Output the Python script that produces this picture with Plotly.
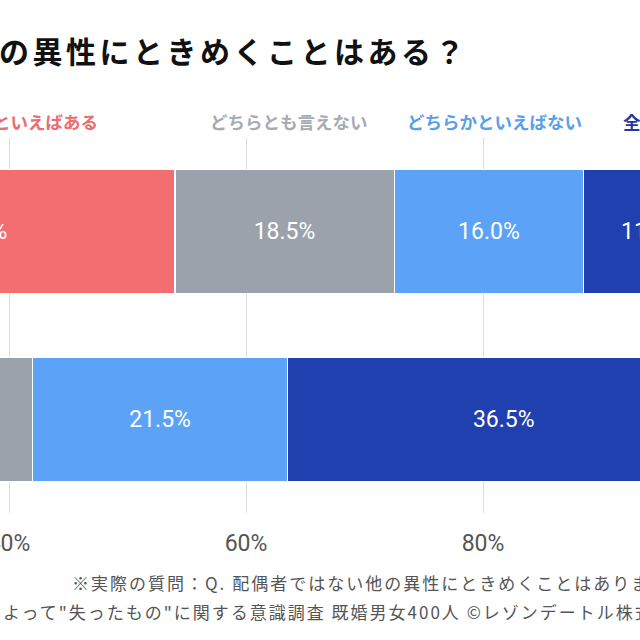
import plotly.graph_objects as go

# ---- data ----
groups = ["男性", "女性"]
answers = ["ある", "どちらかといえばある", "どちらとも言えない", "どちらかといえばない", "全くない"]
values = {
    "ある": [20.5, 7.0],
    "どちらかといえばある": [33.5, 16.5],
    "どちらとも言えない": [18.5, 18.5],
    "どちらかといえばない": [16.0, 21.5],
    "全くない": [11.5, 36.5],
}
colors = ["#d9484d", "#f26e71", "#9ca2ac", "#5ca2f6", "#1f40ae"]
legend_colors = ["#d9484d", "#ec6c6f", "#a7abb3", "#5b9ee9", "#1f3a9c"]
tick_vals = [0, 20, 40, 60, 80, 100]
tick_text = ["0%", "20%", "40%", "60%", "80%", "100%"]
title_text = "配偶者ではない他の異性にときめくことはある？"
note1 = "※実際の質問：Q. 配偶者ではない他の異性にときめくことはありませんか？"
note2 = "よって\"失ったもの\"に関する意識調査 既婚男女400人 ©レゾンデートル株式会社"

W, H = 640, 640
top, bottom = 138, 513
JP = "Noto Sans CJK JP"
NUM = "Roboto"

fig = go.Figure()
for a, c in zip(answers, colors):
    fig.add_trace(go.Bar(
        y=groups, x=values[a], orientation="h", name=a,
        marker=dict(color=c, line=dict(color="white", width=1.2)),
        width=0.66,
        text=[f"{v:.1f}%" for v in values[a]],
        textposition="inside", insidetextanchor="middle", textangle=0,
        constraintext="none",
        textfont=dict(family=NUM, size=23, color="white"),
        cliponaxis=True,
    ))

def px_x(p):
    return p / W

def px_y(p):
    return (bottom - p) / (bottom - top)

ann = []
ann.append(dict(text=f"<span style='letter-spacing:3.5px'><b>{title_text}</b></span>",
                xref="paper", yref="paper", x=px_x(470), y=px_y(50),
                xanchor="right", yanchor="middle", showarrow=False,
                font=dict(family=JP, size=30, color="#111111")))
leg_pos = [(None, None), (100, "right"), (208, "left"), (405, "left"), (621, "left")]
for a, col, (xp, anc) in zip(answers, legend_colors, leg_pos):
    if xp is None:
        continue
    ann.append(dict(text=f"<b>{a}</b>", xref="paper", yref="paper",
                    x=px_x(xp), y=px_y(121), xanchor=anc, yanchor="middle",
                    showarrow=False, font=dict(family=JP, size=17.5, color=col)))
ann.append(dict(text=f"<span style='letter-spacing:2px'>{note1}</span>",
                xref="paper", yref="paper", x=px_x(70), y=px_y(582),
                xanchor="left", yanchor="middle", showarrow=False,
                font=dict(family=JP, size=17, color="#555555")))
ann.append(dict(text=f"<span style='letter-spacing:2px'>{note2}</span>",
                xref="paper", yref="paper", x=px_x(1), y=px_y(611),
                xanchor="left", yanchor="middle", showarrow=False,
                font=dict(family=JP, size=17, color="#555555")))

x0 = 40 - 9 / 11.85
x1 = 40 + 631 / 11.85
fig.update_layout(
    width=W, height=H, barmode="stack", showlegend=False,
    margin=dict(l=0, r=0, t=top, b=H - bottom, pad=0, autoexpand=False),
    paper_bgcolor="white", plot_bgcolor="white",
    annotations=ann,
    xaxis=dict(range=[x0, x1], tickvals=tick_vals, ticktext=tick_text,
               showgrid=True, gridcolor="#dcdcdc", gridwidth=1, zeroline=False,
               ticks="outside", ticklen=9, tickcolor="rgba(0,0,0,0)",
               ticklabeloverflow="allow", automargin=False,
               tickfont=dict(family=NUM, size=23, color="#555555"),
               showline=False, fixedrange=True),
    yaxis=dict(range=[1.5, -0.5], showticklabels=False, showgrid=False,
               zeroline=False, showline=False, ticks="", automargin=False),
)
fig.write_html("out.html")
